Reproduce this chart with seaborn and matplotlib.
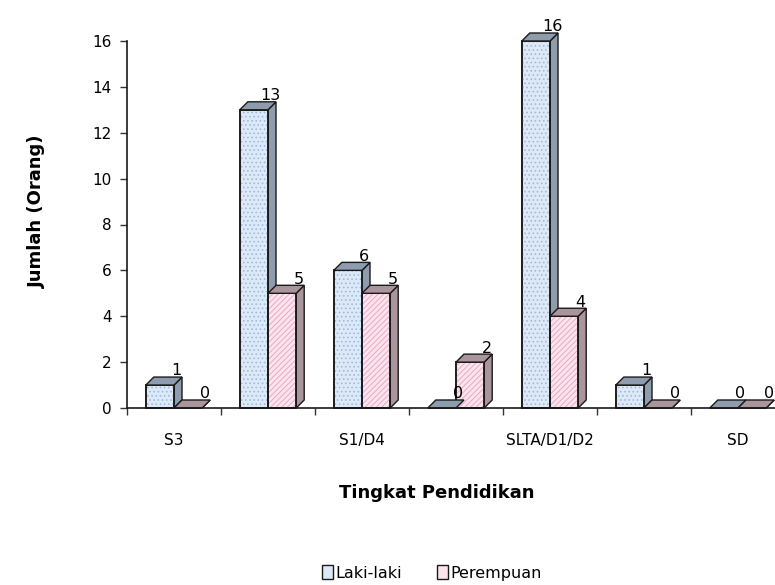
import numpy as np
import pandas as pd
import matplotlib
matplotlib.use("Agg")
import matplotlib.pyplot as plt
from matplotlib.patches import Polygon, Rectangle, Patch
import seaborn as sns

# data
categories = ["S3", "S2", "S1/D4", "D3", "SLTA/D1/D2", "SLTP", "SD"]
tick_labels = ["S3", "", "S1/D4", "", "SLTA/D1/D2", "", "SD"]
laki = [1, 13, 6, 0, 16, 1, 0]
perempuan = [0, 5, 5, 2, 4, 0, 0]
series = ["Laki-laki", "Perempuan"]

front_cols = ["#dde9f6", "#fbe4ee"]
side_cols = ["#8e9cad", "#ab959d"]
hatch_cols = ["#9dbbe0", "#eaa9c4"]
hatches = ["....", "//////"]

df = pd.DataFrame({
    "kategori": categories * 2,
    "jumlah": laki + perempuan,
    "jk": [series[0]] * len(categories) + [series[1]] * len(categories),
})

sns.set_style("white")
plt.rcParams["font.family"] = ["DejaVu Sans"]
plt.rcParams["hatch.linewidth"] = 0.7
plt.rcParams["text.color"] = "black"
plt.rcParams["xtick.color"] = "black"
plt.rcParams["ytick.color"] = "black"

fig = plt.figure(figsize=(7.75, 5.85), dpi=100)
ax = fig.add_axes([127 / 775, 1 - 408 / 585, 658 / 775, 367 / 585])

sns.barplot(data=df, x="kategori", y="jumlah", hue="jk", order=categories,
            hue_order=series, palette=front_cols, width=0.6, saturation=1,
            edgecolor="#1a1a1a", linewidth=1.2, legend=False, ax=ax, zorder=3)

ax.set_xlim(-0.5, 6.5)
ax.set_ylim(0, 16)

# depth of the pseudo 3d bars in data units (about 8 px each way)
dx = 8 / 94
dy = 8 / (367 / 16)

bars = list(ax.patches)
n = len(categories)
for i, p in enumerate(bars):
    s = i // n
    x0, w, h = p.get_x(), p.get_width(), p.get_height()
    p.set_clip_on(False)
    # hatch overlay on the front face
    ax.add_patch(Rectangle((x0, 0), w, h, fill=False, hatch=hatches[s],
                           edgecolor=hatch_cols[s], linewidth=0, zorder=3.5, clip_on=False))
    ax.add_patch(Rectangle((x0, 0), w, h, fill=False, edgecolor="#1a1a1a",
                           linewidth=1.2, zorder=3.6, clip_on=False))
    side = Polygon([(x0 + w, 0), (x0 + w + dx, dy), (x0 + w + dx, h + dy), (x0 + w, h)],
                   closed=True, facecolor=side_cols[s], edgecolor="#1a1a1a",
                   linewidth=1.0, zorder=2.9 - 0.01 * i, clip_on=False)
    top = Polygon([(x0, h), (x0 + dx, h + dy), (x0 + w + dx, h + dy), (x0 + w, h)],
                  closed=True, facecolor=side_cols[s], edgecolor="#1a1a1a",
                  linewidth=1.0, zorder=3.7, clip_on=False)
    ax.add_patch(side)
    ax.add_patch(top)
    ax.annotate(f"{int(h)}", (x0 + w + dx * 0.3, h + dy), xytext=(0, -1),
                textcoords="offset points", ha="center", va="bottom",
                fontsize=11.5, zorder=5, annotation_clip=False)

ax.set_xticks(np.arange(-0.5, 7.0, 1.0))
ax.set_xticklabels([])
ax.set_xticks(np.arange(len(categories)), minor=True)
ax.set_xticklabels(tick_labels, minor=True, fontsize=11)
ax.tick_params(axis="x", which="major", bottom=True, length=5, width=1,
               color="#333333", direction="out")
ax.tick_params(axis="x", which="minor", bottom=True, length=0, pad=18)
ax.set_yticks(np.arange(0, 17, 2))
ax.tick_params(axis="y", left=True, labelsize=11, length=5, width=1,
               color="#333333", direction="out", pad=6)
ax.set_xlabel("")
ax.set_ylabel("")

for sp in ["top", "right"]:
    ax.spines[sp].set_visible(False)
for sp in ["left", "bottom"]:
    ax.spines[sp].set_color("#1a1a1a")
    ax.spines[sp].set_linewidth(1.2)
    ax.spines[sp].set_zorder(6)

fig.text(437 / 775, 1 - 493 / 585, "Tingkat Pendidikan", ha="center", va="center",
         fontsize=13, fontweight="bold")
fig.text(37 / 775, 1 - 211 / 585, "Jumlah (Orang)", ha="center", va="center",
         rotation=90, fontsize=13, fontweight="bold")

handles = [Patch(facecolor=front_cols[k], edgecolor="#1a1a1a", linewidth=1.0)
           for k in range(2)]
fig.legend(handles, series, loc="center", bbox_to_anchor=(432 / 775, 1 - 573 / 585),
           ncol=2, frameon=False, fontsize=11.5, handlelength=0.7, handleheight=0.9,
           handletextpad=0.15, columnspacing=2.2)

fig.savefig("out.png", dpi=100)
